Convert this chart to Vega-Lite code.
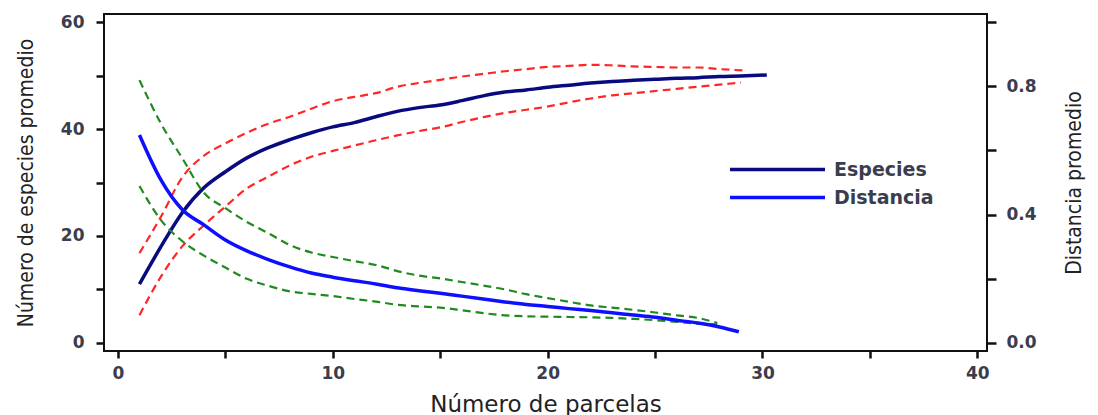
{
  "$schema": "https://vega.github.io/schema/vega-lite/v6.json",
  "width": 883,
  "height": 337,
  "autosize": {"type": "none"},
  "padding": {"left": 104, "top": 14, "right": 111, "bottom": 64},
  "background": "white",
  "config": {
    "view": {"stroke": "#111111", "strokeWidth": 2},
    "axis": {
      "grid": false,
      "domain": false,
      "tickColor": "#111111",
      "tickWidth": 2.5,
      "labelFont": "DejaVu Sans",
      "labelFontSize": 17,
      "labelFontWeight": "bold",
      "labelColor": "#3a3d4d",
      "titleColor": "#222222",
      "titleFontWeight": "normal"
    }
  },
  "data": {
    "values": [
      {"x": 1, "s": "Especies", "y": 11.0}, {"x": 2, "s": "Especies", "y": 18.0}, {"x": 3, "s": "Especies", "y": 24.4}, {"x": 4, "s": "Especies", "y": 29.0}, {"x": 5, "s": "Especies", "y": 32.0}, {"x": 6, "s": "Especies", "y": 34.6}, {"x": 7, "s": "Especies", "y": 36.5}, {"x": 8, "s": "Especies", "y": 38.0}, {"x": 9, "s": "Especies", "y": 39.3}, {"x": 10, "s": "Especies", "y": 40.4}, {"x": 11, "s": "Especies", "y": 41.2}, {"x": 12, "s": "Especies", "y": 42.3}, {"x": 13, "s": "Especies", "y": 43.3}, {"x": 14, "s": "Especies", "y": 44.0}, {"x": 15, "s": "Especies", "y": 44.5}, {"x": 16, "s": "Especies", "y": 45.3}, {"x": 17, "s": "Especies", "y": 46.2}, {"x": 18, "s": "Especies", "y": 46.9}, {"x": 19, "s": "Especies", "y": 47.3}, {"x": 20, "s": "Especies", "y": 47.8}, {"x": 21, "s": "Especies", "y": 48.2}, {"x": 22, "s": "Especies", "y": 48.6}, {"x": 23, "s": "Especies", "y": 48.9}, {"x": 24, "s": "Especies", "y": 49.1}, {"x": 25, "s": "Especies", "y": 49.3}, {"x": 26, "s": "Especies", "y": 49.5}, {"x": 27, "s": "Especies", "y": 49.6}, {"x": 28, "s": "Especies", "y": 49.8}, {"x": 29, "s": "Especies", "y": 49.9}, {"x": 30.2, "s": "Especies", "y": 50.1},
      {"x": 1, "s": "EspHi", "y": 16.8}, {"x": 2, "s": "EspHi", "y": 23.6}, {"x": 3, "s": "EspHi", "y": 31.0}, {"x": 4, "s": "EspHi", "y": 35.0}, {"x": 5, "s": "EspHi", "y": 37.3}, {"x": 6, "s": "EspHi", "y": 39.3}, {"x": 7, "s": "EspHi", "y": 41.0}, {"x": 8, "s": "EspHi", "y": 42.3}, {"x": 9, "s": "EspHi", "y": 43.8}, {"x": 10, "s": "EspHi", "y": 45.2}, {"x": 11, "s": "EspHi", "y": 46.0}, {"x": 12, "s": "EspHi", "y": 46.7}, {"x": 13, "s": "EspHi", "y": 47.9}, {"x": 14, "s": "EspHi", "y": 48.6}, {"x": 15, "s": "EspHi", "y": 49.2}, {"x": 16, "s": "EspHi", "y": 49.8}, {"x": 17, "s": "EspHi", "y": 50.3}, {"x": 18, "s": "EspHi", "y": 50.8}, {"x": 19, "s": "EspHi", "y": 51.2}, {"x": 20, "s": "EspHi", "y": 51.6}, {"x": 21, "s": "EspHi", "y": 51.8}, {"x": 22, "s": "EspHi", "y": 52.0}, {"x": 23, "s": "EspHi", "y": 51.9}, {"x": 24, "s": "EspHi", "y": 51.7}, {"x": 25, "s": "EspHi", "y": 51.6}, {"x": 26, "s": "EspHi", "y": 51.5}, {"x": 27, "s": "EspHi", "y": 51.5}, {"x": 28, "s": "EspHi", "y": 51.2}, {"x": 29.3, "s": "EspHi", "y": 50.9},
      {"x": 1, "s": "EspLo", "y": 5.2}, {"x": 2, "s": "EspLo", "y": 12.4}, {"x": 3, "s": "EspLo", "y": 18.1}, {"x": 4, "s": "EspLo", "y": 22.0}, {"x": 5, "s": "EspLo", "y": 25.5}, {"x": 6, "s": "EspLo", "y": 28.9}, {"x": 7, "s": "EspLo", "y": 31.1}, {"x": 8, "s": "EspLo", "y": 33.2}, {"x": 9, "s": "EspLo", "y": 34.8}, {"x": 10, "s": "EspLo", "y": 35.9}, {"x": 11, "s": "EspLo", "y": 36.9}, {"x": 12, "s": "EspLo", "y": 37.9}, {"x": 13, "s": "EspLo", "y": 38.8}, {"x": 14, "s": "EspLo", "y": 39.6}, {"x": 15, "s": "EspLo", "y": 40.3}, {"x": 16, "s": "EspLo", "y": 41.3}, {"x": 17, "s": "EspLo", "y": 42.2}, {"x": 18, "s": "EspLo", "y": 43.0}, {"x": 19, "s": "EspLo", "y": 43.6}, {"x": 20, "s": "EspLo", "y": 44.2}, {"x": 21, "s": "EspLo", "y": 45.0}, {"x": 22, "s": "EspLo", "y": 45.7}, {"x": 23, "s": "EspLo", "y": 46.3}, {"x": 24, "s": "EspLo", "y": 46.7}, {"x": 25, "s": "EspLo", "y": 47.1}, {"x": 26, "s": "EspLo", "y": 47.5}, {"x": 27, "s": "EspLo", "y": 47.9}, {"x": 28, "s": "EspLo", "y": 48.3}, {"x": 29, "s": "EspLo", "y": 48.7},
      {"x": 1, "s": "Distancia", "y": 0.648}, {"x": 2, "s": "Distancia", "y": 0.508}, {"x": 3, "s": "Distancia", "y": 0.415}, {"x": 4, "s": "Distancia", "y": 0.368}, {"x": 5, "s": "Distancia", "y": 0.321}, {"x": 6, "s": "Distancia", "y": 0.287}, {"x": 7, "s": "Distancia", "y": 0.260}, {"x": 8, "s": "Distancia", "y": 0.237}, {"x": 9, "s": "Distancia", "y": 0.218}, {"x": 10, "s": "Distancia", "y": 0.205}, {"x": 11, "s": "Distancia", "y": 0.194}, {"x": 12, "s": "Distancia", "y": 0.184}, {"x": 13, "s": "Distancia", "y": 0.172}, {"x": 14, "s": "Distancia", "y": 0.163}, {"x": 15, "s": "Distancia", "y": 0.155}, {"x": 16, "s": "Distancia", "y": 0.146}, {"x": 17, "s": "Distancia", "y": 0.137}, {"x": 18, "s": "Distancia", "y": 0.128}, {"x": 19, "s": "Distancia", "y": 0.120}, {"x": 20, "s": "Distancia", "y": 0.114}, {"x": 21, "s": "Distancia", "y": 0.107}, {"x": 22, "s": "Distancia", "y": 0.101}, {"x": 23, "s": "Distancia", "y": 0.094}, {"x": 24, "s": "Distancia", "y": 0.087}, {"x": 25, "s": "Distancia", "y": 0.080}, {"x": 26, "s": "Distancia", "y": 0.071}, {"x": 27, "s": "Distancia", "y": 0.062}, {"x": 28, "s": "Distancia", "y": 0.050}, {"x": 28.9, "s": "Distancia", "y": 0.035},
      {"x": 1, "s": "DistHi", "y": 0.819}, {"x": 2, "s": "DistHi", "y": 0.684}, {"x": 3, "s": "DistHi", "y": 0.575}, {"x": 4, "s": "DistHi", "y": 0.468}, {"x": 5, "s": "DistHi", "y": 0.420}, {"x": 6, "s": "DistHi", "y": 0.377}, {"x": 7, "s": "DistHi", "y": 0.342}, {"x": 8, "s": "DistHi", "y": 0.305}, {"x": 9, "s": "DistHi", "y": 0.282}, {"x": 10, "s": "DistHi", "y": 0.268}, {"x": 11, "s": "DistHi", "y": 0.255}, {"x": 12, "s": "DistHi", "y": 0.243}, {"x": 13, "s": "DistHi", "y": 0.224}, {"x": 14, "s": "DistHi", "y": 0.210}, {"x": 15, "s": "DistHi", "y": 0.201}, {"x": 16, "s": "DistHi", "y": 0.190}, {"x": 17, "s": "DistHi", "y": 0.179}, {"x": 18, "s": "DistHi", "y": 0.167}, {"x": 19, "s": "DistHi", "y": 0.152}, {"x": 20, "s": "DistHi", "y": 0.140}, {"x": 21, "s": "DistHi", "y": 0.128}, {"x": 22, "s": "DistHi", "y": 0.117}, {"x": 23, "s": "DistHi", "y": 0.110}, {"x": 24, "s": "DistHi", "y": 0.103}, {"x": 25, "s": "DistHi", "y": 0.095}, {"x": 26, "s": "DistHi", "y": 0.086}, {"x": 27, "s": "DistHi", "y": 0.078}, {"x": 27.9, "s": "DistHi", "y": 0.062},
      {"x": 1, "s": "DistLo", "y": 0.489}, {"x": 2, "s": "DistLo", "y": 0.383}, {"x": 3, "s": "DistLo", "y": 0.317}, {"x": 4, "s": "DistLo", "y": 0.272}, {"x": 5, "s": "DistLo", "y": 0.235}, {"x": 6, "s": "DistLo", "y": 0.200}, {"x": 7, "s": "DistLo", "y": 0.178}, {"x": 8, "s": "DistLo", "y": 0.161}, {"x": 9, "s": "DistLo", "y": 0.153}, {"x": 10, "s": "DistLo", "y": 0.146}, {"x": 11, "s": "DistLo", "y": 0.137}, {"x": 12, "s": "DistLo", "y": 0.129}, {"x": 13, "s": "DistLo", "y": 0.119}, {"x": 14, "s": "DistLo", "y": 0.114}, {"x": 15, "s": "DistLo", "y": 0.110}, {"x": 16, "s": "DistLo", "y": 0.102}, {"x": 17, "s": "DistLo", "y": 0.093}, {"x": 18, "s": "DistLo", "y": 0.086}, {"x": 19, "s": "DistLo", "y": 0.083}, {"x": 20, "s": "DistLo", "y": 0.082}, {"x": 21, "s": "DistLo", "y": 0.081}, {"x": 22, "s": "DistLo", "y": 0.080}, {"x": 23, "s": "DistLo", "y": 0.078}, {"x": 24, "s": "DistLo", "y": 0.075}, {"x": 25, "s": "DistLo", "y": 0.071}, {"x": 26, "s": "DistLo", "y": 0.066}, {"x": 27, "s": "DistLo", "y": 0.060}, {"x": 27.9, "s": "DistLo", "y": 0.058}
    ]
  },
  "encoding": {
    "x": {
      "field": "x",
      "type": "quantitative",
      "scale": {"domain": [-0.65, 40.45], "nice": false, "zero": false},
      "axis": {
        "orient": "bottom",
        "values": [0, 5, 10, 15, 20, 25, 30, 35, 40],
        "labelExpr": "datum.value % 10 == 0 ? datum.label : ''",
        "tickSize": 7,
        "labelPadding": 7,
        "title": "Número de parcelas",
        "titleFont": "DejaVu Sans",
        "titleFontSize": 23,
        "titlePadding": 12
      }
    }
  },
  "layer": [
    {
      "encoding": {
        "y": {
          "field": "y",
          "type": "quantitative",
          "scale": {"domain": [-1.5, 61.5], "nice": false, "zero": false},
          "axis": {
            "orient": "left",
            "values": [0, 10, 20, 30, 40, 50, 60],
            "labelExpr": "datum.value % 20 == 0 ? datum.label : ''",
            "tickSize": 8,
            "labelPadding": 12,
            "title": "Número de especies promedio",
            "titleFont": "DejaVu Sans Condensed",
            "titleFontSize": 21,
            "titlePadding": 24
          }
        }
      },
      "layer": [
        {
          "transform": [{"filter": "datum.s == 'EspHi' || datum.s == 'EspLo'"}],
          "mark": {"type": "line", "color": "#ff2626", "strokeWidth": 2.2, "strokeDash": [8, 5], "interpolate": "monotone"},
          "encoding": {"detail": {"field": "s"}}
        },
        {
          "transform": [{"filter": "datum.s == 'Especies'"}],
          "mark": {"type": "line", "strokeWidth": 3.5, "interpolate": "monotone"},
          "encoding": {
            "color": {
              "field": "s",
              "type": "nominal",
              "scale": {"domain": ["Especies", "Distancia"], "range": ["#0a0a80", "#0f0fff"]},
              "legend": {
                "orient": "none",
                "legendX": 662,
                "legendY": 144,
                "title": null,
                "padding": 0,
                "symbolType": "M-5,0H5",
                "symbolSize": 361,
                "symbolStrokeWidth": 3.5,
                "labelOffset": 45,
                "labelFont": "DejaVu Sans",
                "labelFontSize": 19,
                "labelFontWeight": "bold",
                "labelColor": "#3a3d4d",
                "rowPadding": 6
              }
            }
          }
        }
      ]
    },
    {
      "encoding": {
        "y": {
          "field": "y",
          "type": "quantitative",
          "scale": {"domain": [-0.025, 1.025], "nice": false, "zero": false},
          "axis": {
            "orient": "right",
            "values": [0, 0.2, 0.4, 0.6, 0.8, 1.0],
            "format": ".1f",
            "labelExpr": "indexof(['0.0','0.4','0.8'], datum.label) >= 0 ? datum.label : ''",
            "tickSize": 9,
            "labelPadding": 10,
            "title": "Distancia promedio",
            "titleFont": "DejaVu Sans Condensed",
            "titleFontSize": 21,
            "titleAngle": -90,
            "titlePadding": 48
          }
        }
      },
      "layer": [
        {
          "transform": [{"filter": "datum.s == 'DistHi' || datum.s == 'DistLo'"}],
          "mark": {"type": "line", "color": "#1f8a1f", "strokeWidth": 2.2, "strokeDash": [8, 5], "interpolate": "monotone"},
          "encoding": {"detail": {"field": "s"}}
        },
        {
          "transform": [{"filter": "datum.s == 'Distancia'"}],
          "mark": {"type": "line", "strokeWidth": 3.5, "interpolate": "monotone"},
          "encoding": {
            "color": {"field": "s", "type": "nominal"}
          }
        }
      ]
    }
  ],
  "resolve": {"scale": {"y": "independent"}, "axis": {"y": "independent"}}
}
